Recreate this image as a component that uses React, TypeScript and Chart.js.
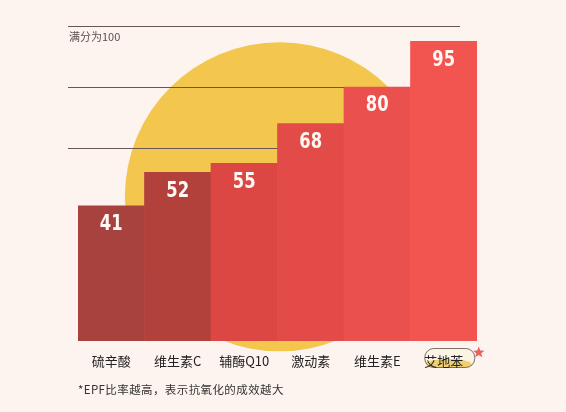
import React, { useEffect, useRef } from "react";
import { Chart, registerables } from "chart.js";

Chart.register(...registerables);

const categories = ["硫辛酸", "维生素C", "辅酶Q10", "激动素", "维生素E", "艾地苯"];
const values = [41, 52, 55, 68, 80, 95];
const barColors = ["#a8423e", "#b2413b", "#dc4643", "#e24b48", "#ea514e", "#f2544f"];
const gridValues = [100, 80, 60];
const scaleNote = "满分为100";
const footnote = "*EPF比率越高，表示抗氧化的成效越大";
const highlightIndex = 5;

const Y_MIN = -3.3;
const Y_MAX = 100;
const BG = "#fdf4f0";

const decorPlugin = {
  id: "decor",
  beforeDraw(chart: any) {
    const { ctx, chartArea, scales } = chart;
    const y = scales.y;
    const x = scales.x;
    ctx.save();
    ctx.fillStyle = BG;
    ctx.fillRect(0, 0, chart.width, chart.height);

    // sun
    const cx = (chartArea.left + chartArea.right) / 2 + 2;
    const cy = y.getPixelForValue(44);
    const r = y.getPixelForValue(0) - y.getPixelForValue(50.7);
    ctx.beginPath();
    ctx.arc(cx, cy, r, 0, Math.PI * 2);
    ctx.fillStyle = "#f3c64d";
    ctx.fill();

    // grid lines
    ctx.strokeStyle = "#6a5754";
    ctx.lineWidth = 1;
    gridValues.forEach((v) => {
      const py = Math.round(y.getPixelForValue(v)) + 0.5;
      ctx.beginPath();
      ctx.moveTo(chartArea.left - 10, py);
      ctx.lineTo(chartArea.right - 17, py);
      ctx.stroke();
    });

    // highlight bubble behind last label
    const bx = x.getPixelForValue(highlightIndex) + 6;
    const by = chartArea.bottom + 17;
    const bw = 50;
    const bh = 19;
    const left = bx - bw / 2;
    const top = by - bh / 2;
    ctx.beginPath();
    ctx.roundRect(left, top, bw, bh, 9);
    ctx.fillStyle = "#fbf3e4";
    ctx.fill();
    ctx.save();
    ctx.clip();
    ctx.fillStyle = "rgba(238, 200, 90, 0.85)";
    ctx.beginPath();
    ctx.ellipse(bx - 4, by + 8, 26, 7, -0.05, 0, Math.PI * 2);
    ctx.fill();
    ctx.restore();
    ctx.beginPath();
    ctx.roundRect(left, top, bw, bh, 9);
    ctx.strokeStyle = "#5a4b48";
    ctx.lineWidth = 0.8;
    ctx.stroke();

    // star
    const sx = left + bw + 4;
    const sy = top + 4;
    ctx.beginPath();
    for (let i = 0; i < 10; i++) {
      const rr = i % 2 === 0 ? 6 : 2.6;
      const a = -Math.PI / 2 + (i * Math.PI) / 5;
      const px = sx + rr * Math.cos(a);
      const py = sy + rr * Math.sin(a);
      if (i === 0) ctx.moveTo(px, py);
      else ctx.lineTo(px, py);
    }
    ctx.closePath();
    ctx.fillStyle = "#e8625c";
    ctx.fill();
    ctx.restore();
  },
  afterDatasetsDraw(chart: any) {
    const { ctx } = chart;
    const meta = chart.getDatasetMeta(0);
    meta.data.forEach((bar: any, i: number) => {
      ctx.save();
      ctx.translate(bar.x, bar.y + 19);
      ctx.scale(0.78, 1);
      ctx.fillStyle = "#fff8f4";
      ctx.font = "bold 21px 'DejaVu Sans', sans-serif";
      ctx.textAlign = "center";
      ctx.textBaseline = "middle";
      ctx.fillText(String(values[i]), 0, 0);
      ctx.restore();
    });
  },
  afterDraw(chart: any) {
    const { ctx, chartArea } = chart;
    ctx.save();
    ctx.fillStyle = "#5c4f4d";
    ctx.font = "11px 'Noto Sans CJK SC', sans-serif";
    ctx.textBaseline = "middle";
    ctx.textAlign = "left";
    ctx.fillText(scaleNote, chartArea.left - 9, chartArea.top + 11);
    ctx.fillStyle = "#333333";
    ctx.font = "11.5px 'Noto Sans CJK SC', sans-serif";
    (ctx as any).letterSpacing = "0.4px";
    ctx.fillText(footnote, chartArea.left, chartArea.bottom + 49);
    ctx.restore();
  },
};

export default function App() {
  const ref = useRef<HTMLCanvasElement | null>(null);
  useEffect(() => {
    document.body.style.margin = "0";
    const canvas = ref.current!;
    const chart = new Chart(canvas, {
      type: "bar",
      data: {
        labels: categories,
        datasets: [
          {
            data: values,
            backgroundColor: barColors,
            borderWidth: 0,
            base: Y_MIN,
            barPercentage: 1,
            categoryPercentage: 1,
          } as any,
        ],
      },
      options: {
        animation: false,
        responsive: false,
        devicePixelRatio: 1,
        layout: { padding: { left: 78, right: 89, top: 26, bottom: 41 } },
        plugins: {
          legend: { display: false },
          tooltip: { enabled: false },
        },
        scales: {
          x: {
            grid: { display: false, drawTicks: false },
            border: { display: false },
            ticks: {
              color: "#222222",
              padding: 12,
              font: { size: 13, family: "'Noto Sans CJK SC', sans-serif" },
              maxRotation: 0,
              autoSkip: false,
            },
            afterFit(scale: any) {
              scale.height = 30;
            },
          },
          y: {
            display: false,
            min: Y_MIN,
            max: Y_MAX,
          },
        },
      },
      plugins: [decorPlugin],
    });
    return () => chart.destroy();
  }, []);
  return (
    <div style={{ position: "absolute", left: 0, top: 0, width: 566, height: 412 }}>
      <canvas ref={ref} width={566} height={412} />
    </div>
  );
}
